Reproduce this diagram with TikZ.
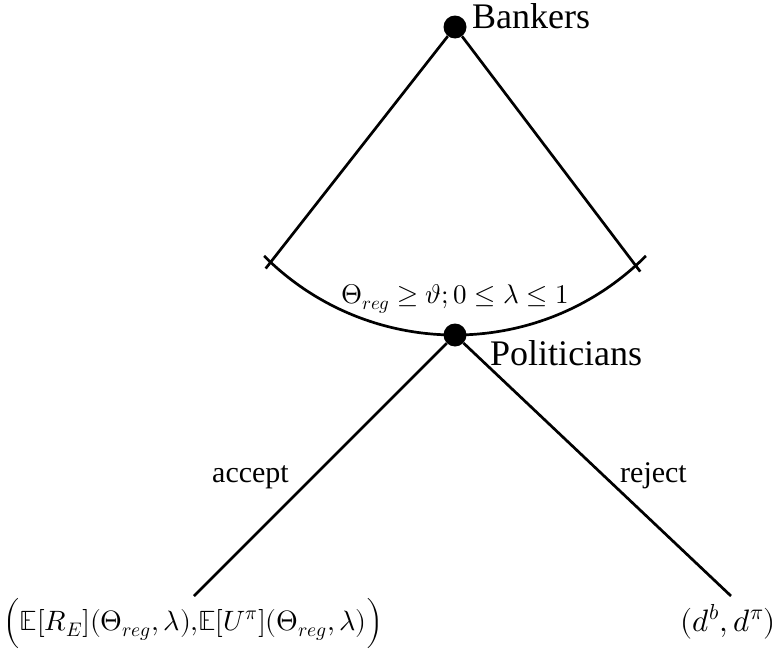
\documentclass[tikz,border=0pt]{standalone}
\usepackage{amsmath}
\usepackage{unicode-math}
\setmainfont{Liberation Serif}
\setmathfont{Latin Modern Math}
\begin{document}
\begin{tikzpicture}[x=1pt,y=1pt,
  edge/.style={line width=2.7pt},
  player/.style={circle,fill=black,minimum size=23pt,inner sep=0pt},
  who/.style={inner sep=0pt,anchor=base west,font=\fontsize{36}{40}\selectfont},
  move/.style={inner sep=0pt,anchor=base west,font=\fontsize{30}{34}\selectfont},
  payoff/.style={inner sep=0pt,font=\fontsize{28}{34}\selectfont}]
\useasboundingbox (0,0) rectangle (777,-653);

% decision nodes
\node[player] (bk) at (455,-27) {};
\node[player] (pol) at (455,-335) {};
\node[who] (bklab) at (472,-28) {Bankers};
\node[who] (pollab) at (490,-365) {Politicians};

% bankers' choice set, drawn as an arc between the two extreme moves
\coordinate (ac) at (455,-65);
\coordinate (jl) at (270,-263);
\coordinate (jr) at (636,-266);
\draw[edge,shorten >=-7pt] (bk) -- (jl);
\draw[edge,shorten >=-7pt] (bk) -- (jr);
\draw[edge] ([shift={(225:270pt)}]ac) arc[start angle=225,end angle=315,radius=270pt];
\node[payoff,anchor=base,font=\fontsize{27}{32}\selectfont] (set) at (455,-303)
  {$\Theta_{reg}\geq\vartheta;0\leq\lambda\leq1$};

% politicians' moves
\coordinate (bl) at (194,-596);
\coordinate (br) at (731,-596);
\draw[edge] (pol) -- (bl);
\draw[edge] (pol) -- (br);
\node[move] (acc) at (212,-482) {accept};
\node[move] (rej) at (620,-482) {reject};

% payoffs
\node[payoff,anchor=base west] (pa) at (3,-630)
  {$\Bigl(\mathbb{E}[R_E](\Theta_{reg},\lambda){,}\mathbb{E}[U^{\pi}](\Theta_{reg},\lambda)\Bigr)$};
\node[payoff,anchor=base east,font=\fontsize{31}{36}\selectfont] (pr) at (776,-631)
  {$(d^b,d^{\pi})$};
\end{tikzpicture}
\end{document}
